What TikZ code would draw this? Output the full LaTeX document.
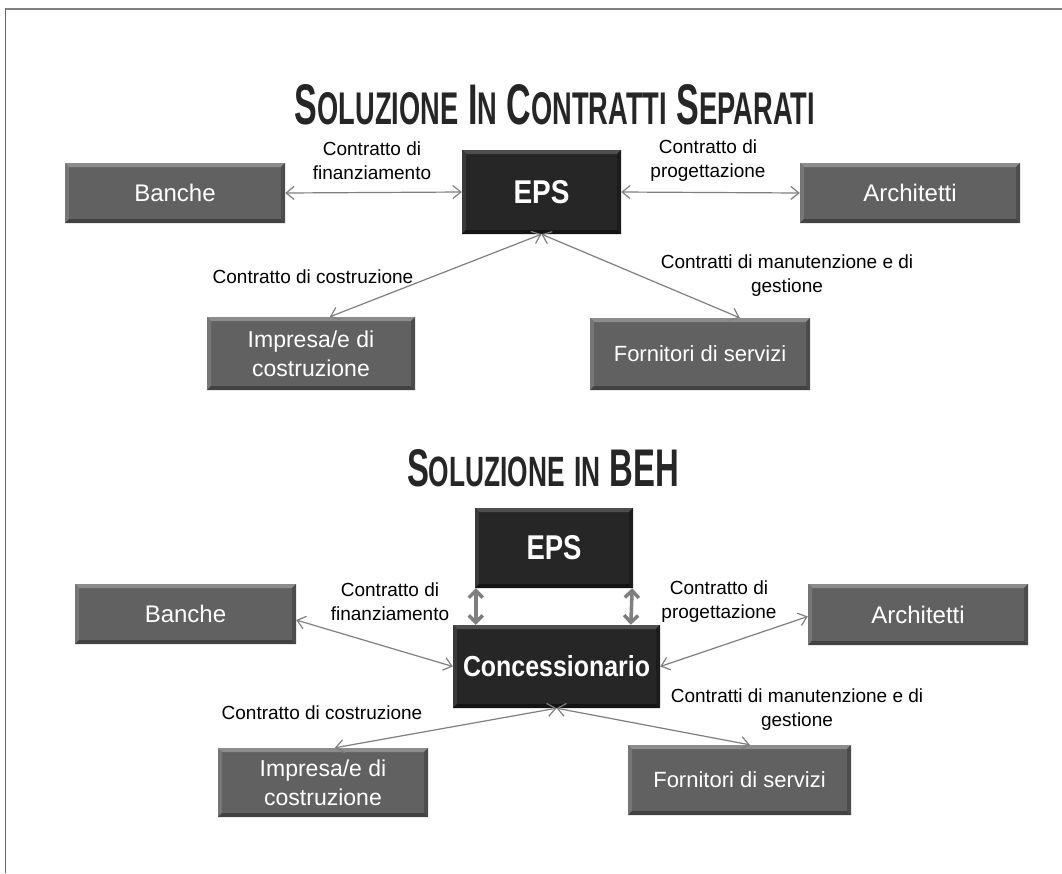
\documentclass[tikz,border=0pt]{standalone}
\usepackage{fontspec}
\setmainfont{Liberation Sans}
\usetikzlibrary{arrows.meta,calc}

\definecolor{boxgray}{HTML}{616161}
\definecolor{boxhi}{HTML}{8C8C8C}
\definecolor{boxside}{HTML}{767676}
\definecolor{boxshade}{HTML}{4C4C4C}
\definecolor{boxlow}{HTML}{424242}
\definecolor{boxdark}{HTML}{262626}
\definecolor{darkhi}{HTML}{4E4E4E}
\definecolor{darkside}{HTML}{3A3A3A}
\definecolor{darkshade}{HTML}{1C1C1C}
\definecolor{darklow}{HTML}{141414}
\definecolor{linegray}{HTML}{7F7F7F}
\definecolor{framegray}{HTML}{808080}
\definecolor{inkdark}{HTML}{262626}

\tikzset{
  bevel/.style n args={5}{fill=#1, path picture={
    \coordinate (bnw) at (path picture bounding box.north west);
    \coordinate (bne) at (path picture bounding box.north east);
    \coordinate (bsw) at (path picture bounding box.south west);
    \coordinate (bse) at (path picture bounding box.south east);
    \fill[#2] (bnw) -- (bne) -- ($(bne)+(-4pt,-4pt)$) -- ($(bnw)+(4pt,-4pt)$) -- cycle;
    \fill[#3] (bnw) -- (bsw) -- ($(bsw)+(4pt,4pt)$) -- ($(bnw)+(4pt,-4pt)$) -- cycle;
    \fill[#4] (bne) -- (bse) -- ($(bse)+(-4pt,4pt)$) -- ($(bne)+(-4pt,-4pt)$) -- cycle;
    \fill[#5] (bsw) -- (bse) -- ($(bse)+(-4pt,4pt)$) -- ($(bsw)+(4pt,4pt)$) -- cycle;
  }},
  graybox/.style={bevel={boxgray}{boxhi}{boxside}{boxshade}{boxlow},
    text=white, align=center, inner sep=0pt},
  darkbox/.style={bevel={boxdark}{darkhi}{darkside}{darkshade}{darklow},
    text=white, align=center, inner sep=0pt},
  lbl/.style={font=\fontsize{19}{24}\selectfont, text=black, align=center, inner sep=0pt},
  conn/.style={draw=linegray, line width=1.2pt,
    {Straight Barb[length=8pt,width=13pt]}-{Straight Barb[length=8pt,width=13pt]}},
  thickconn/.style={draw=linegray, line width=3.5pt,
    {Straight Barb[length=7pt,width=14pt]}-{Straight Barb[length=7pt,width=14pt]}},
}

% small-caps style title lettering
\newcommand{\capA}[1]{{\fontsize{50}{50}\selectfont #1}}
\newcommand{\capB}[1]{{\fontsize{40}{40}\selectfont #1}}
\newcommand{\wordgap}{\hspace{14pt}}

\begin{document}
\begin{tikzpicture}[x=1pt,y=-1pt]
\useasboundingbox (0,0) rectangle (1062,873);
\fill[white] (0,0) rectangle (1062,873);

% page frame
\draw[framegray, line width=2.5pt] (5,9) -- (1062,9);
\draw[framegray!80!black, line width=1pt] (5,9) -- (5,873);

% ---------- separate contracts ----------
\node[text=inkdark, inner sep=0pt] (title1) at (555,105)
  {\resizebox{520pt}{40pt}{\bfseries\capA{S}\capB{OLUZIONE}\wordgap\capA{I}\capB{N}\wordgap\capA{C}\capB{ONTRATTI}\wordgap\capA{S}\capB{EPARATI}}};

\node[graybox, minimum width=220pt, minimum height=60pt,
      font=\fontsize{24}{28}\selectfont] (banche1) at (175,193) {Banche};
\node[darkbox, minimum width=159pt, minimum height=84pt] (eps1) at (541.5,192)
  {\resizebox{56pt}{23pt}{\bfseries EPS}};
\node[graybox, minimum width=220pt, minimum height=60pt,
      font=\fontsize{24}{28}\selectfont] (arch1) at (910,193) {Architetti};
\node[graybox, minimum width=208pt, minimum height=73pt,
      font=\fontsize{23}{29}\selectfont] (imp1) at (311,353.5) {Impresa/e di\\costruzione};
\node[graybox, minimum width=220pt, minimum height=72pt,
      font=\fontsize{22}{28}\selectfont] (forn1) at (700,354) {Fornitori di servizi};

\draw[conn] (banche1.east) -- (eps1.west);
\draw[conn] (eps1.east) -- (arch1.west);
\draw[conn] (eps1.south) -- ($(imp1.north west)+(123,0)$);
\draw[conn] (eps1.south) -- ($(forn1.north west)+(150,0)$);

\node[lbl] (fin1) at (372,161) {Contratto di\\finanziamento};
\node[lbl] (prog1) at (708,161) {Contratto di\\progettazione};
\node[lbl] (cost1) at (313,277) {Contratto di costruzione};
\node[lbl] (man1) at (787,276) {Contratti di manutenzione e di\\gestione};

% ---------- BEH ----------
\node[text=inkdark, inner sep=0pt] (title2) at (543,468)
  {\resizebox{272pt}{37pt}{\bfseries\capA{S}\capB{OLUZIONE}\wordgap\capB{IN}\wordgap\capA{BEH}}};

\node[darkbox, minimum width=158pt, minimum height=80pt] (eps2) at (554,548)
  {\resizebox{55pt}{24pt}{\bfseries EPS}};
\node[darkbox, minimum width=207pt, minimum height=83pt] (conc) at (556.5,666.5)
  {\resizebox{187pt}{21pt}{\bfseries Concessionario}};
\node[graybox, minimum width=221pt, minimum height=60pt,
      font=\fontsize{24}{28}\selectfont] (banche2) at (185.5,614) {Banche};
\node[graybox, minimum width=220pt, minimum height=61pt,
      font=\fontsize{24}{28}\selectfont] (arch2) at (918,614.5) {Architetti};
\node[graybox, minimum width=210pt, minimum height=69pt,
      font=\fontsize{23}{29}\selectfont] (imp2) at (323,782.5) {Impresa/e di\\costruzione};
\node[graybox, minimum width=223pt, minimum height=70pt,
      font=\fontsize{22}{28}\selectfont] (forn2) at (739.5,780) {Fornitori di servizi};

\draw[thickconn] ($(eps2.south west)+(1,0)$) -- ($(conc.north west)+(23,0)$);
\draw[thickconn] ($(eps2.south east)+(-1,0)$) -- ($(conc.north west)+(178,0)$);
\draw[conn] ($(banche2.east)+(0,6)$) -- (conc.west);
\draw[conn] ($(arch2.west)+(0,2)$) -- (conc.east);
\draw[conn] (conc.south) -- ($(imp2.north west)+(117,0)$);
\draw[conn] (conc.south) -- ($(forn2.north west)+(122,0)$);

\node[lbl] (fin2) at (390,602) {Contratto di\\finanziamento};
\node[lbl] (prog2) at (719,602) {Contratto di\\progettazione};
\node[lbl] (cost2) at (322,713) {Contratto di costruzione};
\node[lbl] (man2) at (797,710) {Contratti di manutenzione e di\\gestione};
\end{tikzpicture}
\end{document}
